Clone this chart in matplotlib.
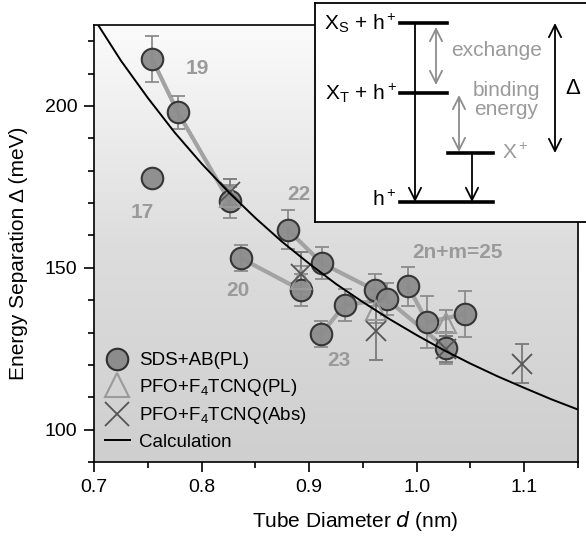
import numpy as np
import matplotlib
matplotlib.use("Agg")
import matplotlib.pyplot as plt
from matplotlib.lines import Line2D

plt.rcParams['font.family'] = ['Liberation Sans', 'DejaVu Sans']
plt.rcParams['mathtext.default'] = 'regular'

# ---------------- data ----------------
# SDS+AB(PL) circles
sds_d = [0.754, 0.778, 0.754, 0.826, 0.837, 0.880, 0.892, 0.912, 0.911, 0.933,
         0.961, 0.972, 0.992, 1.010, 1.027, 1.045]
sds_E = [214.5, 198.0, 177.8, 170.5, 152.9, 161.8, 143.2, 151.4, 129.5, 138.5,
         143.1, 140.3, 144.3, 133.2, 125.2, 135.7]
sds_err = [7, 5, 0, 5, 4, 6, 5, 5, 4, 5, 5, 5, 6, 8, 5, 7]

# family connections (indices into sds arrays)
fam_19 = [0, 1, 3]
fam_20 = [4, 6]
fam_22 = [5, 7, 10]
fam_23 = [8, 9, 11, 14]
fam_25 = [12, 13, 15]
families = [fam_19, fam_20, fam_22, fam_23, fam_25]

# PFO+F4TCNQ(PL) triangles
pl_d = [0.826, 0.892, 0.962, 1.027]
pl_E = [172.0, 146.5, 137.0, 133.0]
pl_err = [3, 4, 4, 4]

# PFO+F4TCNQ(Abs) crosses
abs_d = [0.826, 0.892, 0.962, 1.027, 1.098]
abs_E = [173.5, 148.0, 130.5, 125.0, 120.3]
abs_err = [4, 7, 9, 4, 6]

# Calculation curve
calc_d = [0.700, 0.725, 0.750, 0.775, 0.800, 0.825, 0.850, 0.875, 0.900,
          0.925, 0.950, 0.975, 1.000, 1.025, 1.050, 1.075, 1.100, 1.125, 1.150]
calc_E = [227.0, 214.0, 202.5, 191.8, 182.2, 173.4, 165.4, 158.0, 151.3,
          145.0, 139.4, 134.1, 129.2, 124.6, 120.4, 116.5, 112.9, 109.4, 106.2]

# family labels
fam_labels = ['19', '17', '22', '20', '23', '2n+m=25']
fam_lab_d = [0.7958, 0.7446, 0.8906, 0.8339, 0.9278, 1.0384]
fam_lab_E = [211.7, 167.2, 172.5, 143.1, 121.5, 154.6]

xticks = [0.7, 0.8, 0.9, 1.0, 1.1]
yticks = [100, 150, 200]

# ---------------- figure ----------------
fig = plt.figure(figsize=(5.86, 5.43), dpi=100)
ax = fig.add_axes([94/586, 1-462/543, 484/586, 437/543])
ax.set_xlim(0.7, 1.15)
ax.set_ylim(90, 225)

# gradient background
grad = np.linspace(0, 1, 256).reshape(-1, 1)
cmap = matplotlib.colors.LinearSegmentedColormap.from_list('bg', ['#fbfbfb', '#dddddd', '#cfcfcf'])
ax.imshow(grad, extent=[0.7, 1.15, 90, 225], origin='upper', aspect='auto',
          cmap=cmap, zorder=0)

# family lines
for fam in families:
    ax.plot([sds_d[i] for i in fam], [sds_E[i] for i in fam], color='#a3a3a3',
            lw=3, zorder=2, solid_capstyle='round')

# error bars
for d, E, e in zip(sds_d, sds_E, sds_err):
    if e > 0:
        ax.errorbar(d, E, yerr=e, fmt='none', ecolor='#8c8c8c', elinewidth=1.3,
                    capsize=5, capthick=1.3, zorder=3)
ax.errorbar(pl_d, pl_E, yerr=pl_err, fmt='none', ecolor='#8c8c8c', elinewidth=1.3,
            capsize=5, capthick=1.3, zorder=3)
ax.errorbar(abs_d, abs_E, yerr=abs_err, fmt='none', ecolor='#7a7a7a', elinewidth=1.3,
            capsize=5, capthick=1.3, zorder=3)

# circles
ax.plot(sds_d, sds_E, 'o', ms=15.5, mfc='#8c8c8c', mec='#2f2f2f', mew=1.5,
        ls='none', zorder=4, alpha=0.95)
# triangles
ax.plot(pl_d, pl_E, '^', ms=15, mfc='none', mec='#9a9a9a', mew=1.5,
        ls='none', zorder=5)
# crosses
ax.plot(abs_d, abs_E, 'x', ms=15, mec='#555555', mew=1.3, ls='none', zorder=6)

# calculation
ax.plot(calc_d, calc_E, color='black', lw=1.4, zorder=7)

for t, d, E in zip(fam_labels, fam_lab_d, fam_lab_E):
    ax.text(d, E, t, color='#9a9a9a', fontsize=15, fontweight='bold',
            ha='center', va='center', zorder=8)

ax.set_xticks(xticks)
ax.set_xticklabels(['0.7', '0.8', '0.9', '1.0', '1.1'])
ax.set_xticks(np.arange(0.75, 1.16, 0.1), minor=True)
ax.set_yticks(yticks)
ax.set_yticks(np.arange(90, 226, 10), minor=True)
ax.tick_params(axis='both', which='major', direction='out', length=7, width=1.2,
               labelsize=14, pad=5)
ax.tick_params(axis='both', which='minor', direction='out', length=4, width=1.2)
for s in ax.spines.values():
    s.set_linewidth(1.2)
ax.set_xlabel('Tube Diameter $\\it{d}$ (nm)', fontsize=15)
ax.set_ylabel('Energy Separation \u0394 (meV)', fontsize=15)
ax.xaxis.set_label_coords(0.539, -0.108)
ax.yaxis.set_label_coords(-0.137, 0.478)

handles = [
    Line2D([], [], marker='o', ls='none', ms=15.5, mfc='#8c8c8c', mec='#2f2f2f', mew=1.5),
    Line2D([], [], marker='^', ls='none', ms=17, mfc='none', mec='#9a9a9a', mew=1.5),
    Line2D([], [], marker='x', ls='none', ms=17, mec='#555555', mew=1.3),
    Line2D([], [], color='black', lw=1.4),
]
labels = ['SDS+AB(PL)', 'PFO+F$_4$TCNQ(PL)', 'PFO+F$_4$TCNQ(Abs)', 'Calculation']
leg = ax.legend(handles, labels, loc='lower left', frameon=False, fontsize=13.5,
                handlelength=1.3, handletextpad=0.5, labelspacing=0.4,
                borderaxespad=0.3, borderpad=0.3)
leg.set_zorder(9)

# ---------------- inset diagram ----------------
L = 315/586
B = 1 - 222/543
W = 1.01 - L
H = 219/543
ins = fig.add_axes([L, B, W, H])
ins.set_xlim(315, 315 + W*586)
ins.set_ylim(222, 3)
ins.set_xticks([])
ins.set_yticks([])
ins.set_facecolor('white')
for s in ins.spines.values():
    s.set_linewidth(1.3)

lw_lvl = 2.6
ins.plot([400, 447], [23, 23], color='black', lw=lw_lvl)
ins.plot([400, 447], [93, 93], color='black', lw=lw_lvl)
ins.plot([448, 493], [153, 153], color='black', lw=lw_lvl)
ins.plot([400, 493], [202, 202], color='black', lw=lw_lvl)

fs_in = 15
ins.text(397, 23, 'X$_S$ + h$^+$', fontsize=fs_in, ha='right', va='center')
ins.text(397, 93, 'X$_T$ + h$^+$', fontsize=fs_in, ha='right', va='center')
ins.text(397, 200, 'h$^+$', fontsize=fs_in, ha='right', va='center')
ins.text(502, 153, 'X$^+$', fontsize=fs_in, ha='left', va='center', color='#9a9a9a')
ins.text(451, 50, 'exchange', fontsize=fs_in, ha='left', va='center', color='#9a9a9a')
ins.text(506, 100, 'binding\nenergy', fontsize=fs_in, ha='center', va='center',
         color='#9a9a9a', linespacing=1.0)
ins.text(573, 88, '\u0394', fontsize=16, ha='center', va='center')

def arrow(x0, y0, x1, y1, style, color):
    ins.annotate('', xy=(x1, y1), xytext=(x0, y0),
                 arrowprops=dict(arrowstyle=style, color=color, lw=1.3,
                                 shrinkA=0, shrinkB=0, mutation_scale=22))

arrow(415, 23, 415, 202, '->', 'black')
arrow(472, 153, 472, 202, '->', 'black')
arrow(436, 27, 436, 85, '<->', '#8c8c8c')
arrow(459, 95, 459, 152, '<->', '#8c8c8c')
arrow(555, 23, 555, 153, '<->', 'black')

fig.savefig('out.png', dpi=100)
